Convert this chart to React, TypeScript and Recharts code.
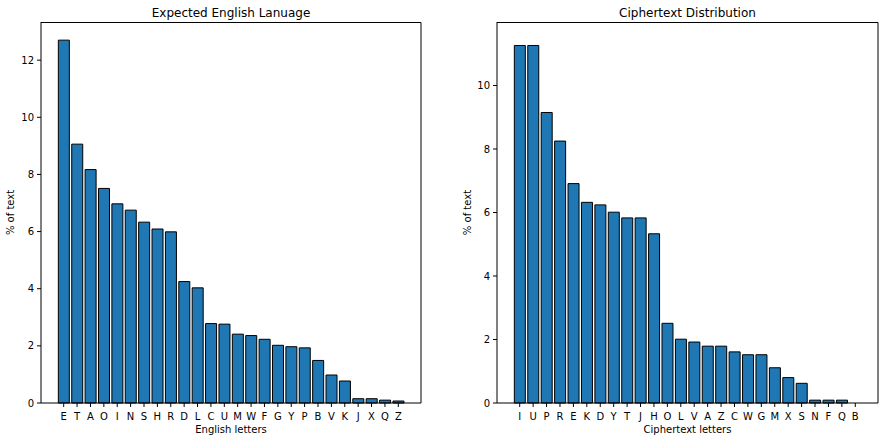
import React from 'react';
import { BarChart, Bar, XAxis, YAxis, Label } from 'recharts';

// expected letter frequencies in English text, most common first
const englishLetters = ['E', 'T', 'A', 'O', 'I', 'N', 'S', 'H', 'R', 'D', 'L', 'C', 'U', 'M', 'W', 'F', 'G', 'Y', 'P', 'B', 'V', 'K', 'J', 'X', 'Q', 'Z'];
const englishFreq = [12.7, 9.06, 8.17, 7.51, 6.97, 6.75, 6.33, 6.09, 5.99, 4.25, 4.03, 2.78, 2.76, 2.41, 2.36, 2.23, 2.02, 1.97, 1.93, 1.49, 0.98, 0.77, 0.15, 0.15, 0.1, 0.07];
const englishTicks = [0, 2, 4, 6, 8, 10, 12];

// letter counts found in the ciphertext
const cipherLetters = ['I', 'U', 'P', 'R', 'E', 'K', 'D', 'Y', 'T', 'J', 'H', 'O', 'L', 'V', 'A', 'Z', 'C', 'W', 'G', 'M', 'X', 'S', 'N', 'F', 'Q', 'B'];
const cipherFreq = [11.26, 11.26, 9.15, 8.25, 6.91, 6.32, 6.24, 6.01, 5.83, 5.83, 5.33, 2.51, 2.01, 1.92, 1.79, 1.79, 1.61, 1.52, 1.52, 1.11, 0.8, 0.62, 0.09, 0.09, 0.09, 0];
const cipherTicks = [0, 2, 4, 6, 8, 10];

const FONT = '"DejaVu Sans", sans-serif';
const BLUE = '#1f77b4';
const TOP = 22;

interface PanelProps {
  letters: string[];
  values: number[];
  ticks: number[];
  title: string;
  xLabel: string;
  width: number;
  yAxisWidth: number;
  yLabelX: number;
  rightMargin: number;
}

function YLabel({ viewBox, posX }: any) {
  const cy = viewBox.y + viewBox.height / 2;
  return (
    <text x={posX} y={cy} transform={`rotate(-90 ${posX} ${cy})`} textAnchor="middle" dominantBaseline="central"
      fontSize={10} fontFamily={FONT} fill="#000">
      % of text
    </text>
  );
}

function XLabel({ viewBox, text }: any) {
  const cx = viewBox.x + viewBox.width / 2;
  return (
    <text x={cx} y={429} textAnchor="middle" dominantBaseline="central" fontSize={10} fontFamily={FONT} fill="#000">
      {text}
    </text>
  );
}

function Title({ viewBox, text }: any) {
  const cx = viewBox.x + viewBox.width / 2;
  return (
    <text x={cx} y={13} textAnchor="middle" dominantBaseline="central" fontSize={12} fontFamily={FONT} fill="#000">
      {text}
    </text>
  );
}

// top and right spines of the axes box
function Frame({ viewBox }: any) {
  const x0 = viewBox.x;
  const x1 = viewBox.x + viewBox.width;
  const y1 = viewBox.y;
  return (
    <path d={`M${x0},${TOP + 0.5}H${x1}V${y1}`} fill="none" stroke="#000" strokeWidth={1} />
  );
}

function Panel({ letters, values, ticks, title, xLabel, width, yAxisWidth, yLabelX, rightMargin }: PanelProps) {
  const data = letters.map((letter, i) => ({ letter, value: values[i] }));
  const tickStyle = { fontSize: 10, fontFamily: FONT, fill: '#000' };
  return (
    <BarChart width={width} height={441} data={data} barCategoryGap="10%"
      margin={{ top: TOP, right: rightMargin, left: 0, bottom: 8 }}>
      <XAxis dataKey="letter" interval={0} height={30} padding={{ left: 16, right: 16 }}
        tick={tickStyle} tickSize={4} tickMargin={6}
        axisLine={{ stroke: '#000' }} tickLine={{ stroke: '#000' }}>
        <Label content={<XLabel text={xLabel} />} />
        <Label content={<Title text={title} />} />
        <Label content={<Frame />} />
      </XAxis>
      <YAxis width={yAxisWidth} domain={[0, (max: number) => max * 1.05]} ticks={ticks} allowDecimals={false}
        tick={tickStyle} tickSize={4} tickMargin={3}
        axisLine={{ stroke: '#000' }} tickLine={{ stroke: '#000' }}>
        <Label content={<YLabel posX={yLabelX} />} />
      </YAxis>
      <Bar dataKey="value" fill={BLUE} stroke="#000" strokeWidth={1} isAnimationActive={false} />
    </BarChart>
  );
}

export default function App() {
  return (
    <div style={{ position: 'absolute', left: 0, top: 0, width: 885, height: 441, background: '#fff', display: 'flex' }}>
      <Panel letters={englishLetters} values={englishFreq} ticks={englishTicks}
        title="Expected English Lanuage" xLabel="English letters"
        width={440} yAxisWidth={41} yLabelX={10} rightMargin={19} />
      <Panel letters={cipherLetters} values={cipherFreq} ticks={cipherTicks}
        title="Ciphertext Distribution" xLabel="Ciphertext letters"
        width={445} yAxisWidth={57} yLabelX={27} rightMargin={7} />
    </div>
  );
}
